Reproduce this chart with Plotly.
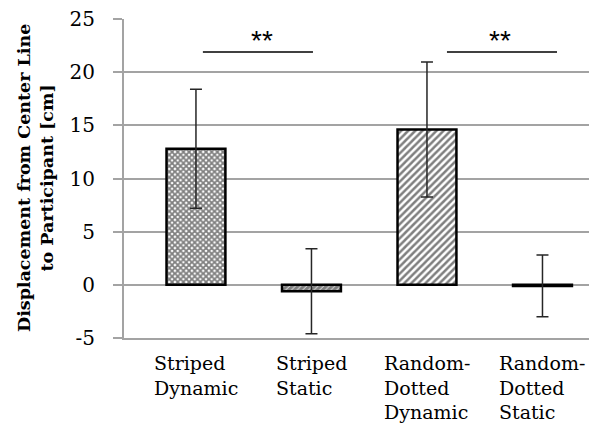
import plotly.graph_objects as go

categories = ["Striped Dynamic", "Striped Static", "Random-Dotted Dynamic", "Random-Dotted Static"]
label_lines = [["Striped", "Dynamic"], ["Striped", "Static"], ["Random-", "Dotted", "Dynamic"], ["Random-", "Dotted", "Static"]]
means = [12.8, -0.6, 14.6, -0.1]
errors = [5.6, 4.0, 6.35, 2.9]
tick_vals = [-5, 0, 5, 10, 15, 20, 25]
tick_text = ["-5", "0", "5", "10", "15", "20", "25"]
patterns = ["x", "/", "/", ""]
pattern_sizes = [4, 4, 5, 6]
pattern_solid = [0.7, 0.85, 0.5, 0.3]

GRID = "#a3a3a3"
SERIF = "DejaVu Serif"

fig = go.Figure()
fig.add_trace(go.Bar(
    x=categories, y=means, width=0.51,
    marker=dict(color="white", line=dict(color="black", width=2.5),
                pattern=dict(shape=patterns, size=pattern_sizes, solidity=pattern_solid,
                             fgcolor="black", bgcolor="white")),
    error_y=dict(type="data", array=errors, visible=True, color="#262626", thickness=1.5, width=6),
    showlegend=False,
))

annotations = []
for i, lines in enumerate(label_lines):
    annotations.append(dict(x=i, y=0, xref="x", yref="paper", yanchor="top", xanchor="center",
                            yshift=-12, align="left", showarrow=False,
                            text="<br>".join(lines), font=dict(family=SERIF, size=19, color="black")))
for xc in [0.57, 2.63]:
    annotations.append(dict(x=xc, y=21.9, xref="x", yref="y", yanchor="bottom", showarrow=False,
                            yshift=-6,
                            text="**", font=dict(family="Liberation Sans", size=28, color="black")))
annotations.append(dict(x=-0.187, y=0.5, xref="paper", yref="paper", xanchor="center", yanchor="middle",
                        textangle=-90, showarrow=False,
                        text="<b>Displacement from Center Line<br>to Participant [cm]</b>",
                        font=dict(family=SERIF, size=17.5, color="black")))

shapes = [
    dict(type="line", xref="x", yref="y", x0=0.06, x1=1.013, y0=21.9, y1=21.9, line=dict(color="black", width=1.5)),
    dict(type="line", xref="x", yref="y", x0=2.173, x1=3.126, y0=21.9, y1=21.9, line=dict(color="black", width=1.5)),
]

fig.update_layout(
    width=589, height=417,
    margin=dict(l=116, r=0, t=11, b=87),
    plot_bgcolor="white", paper_bgcolor="white",
    annotations=annotations, shapes=shapes,
    xaxis=dict(type="category", range=[-0.623, 3.472], showticklabels=False, showgrid=False,
               showline=True, linecolor=GRID, linewidth=2, ticks=""),
    yaxis=dict(range=[-5, 25.0001], tickvals=tick_vals, ticktext=tick_text, showgrid=True, gridcolor=GRID,
               gridwidth=2, zeroline=True, zerolinecolor=GRID, zerolinewidth=2,
               showline=True, linecolor=GRID, linewidth=2, ticks="outside", ticklen=9,
               tickcolor=GRID, tickwidth=2, ticklabelstandoff=14, ticklabeloverflow="allow",
               tickfont=dict(family=SERIF, size=20, color="black")),
)

fig.write_html("out.html")
